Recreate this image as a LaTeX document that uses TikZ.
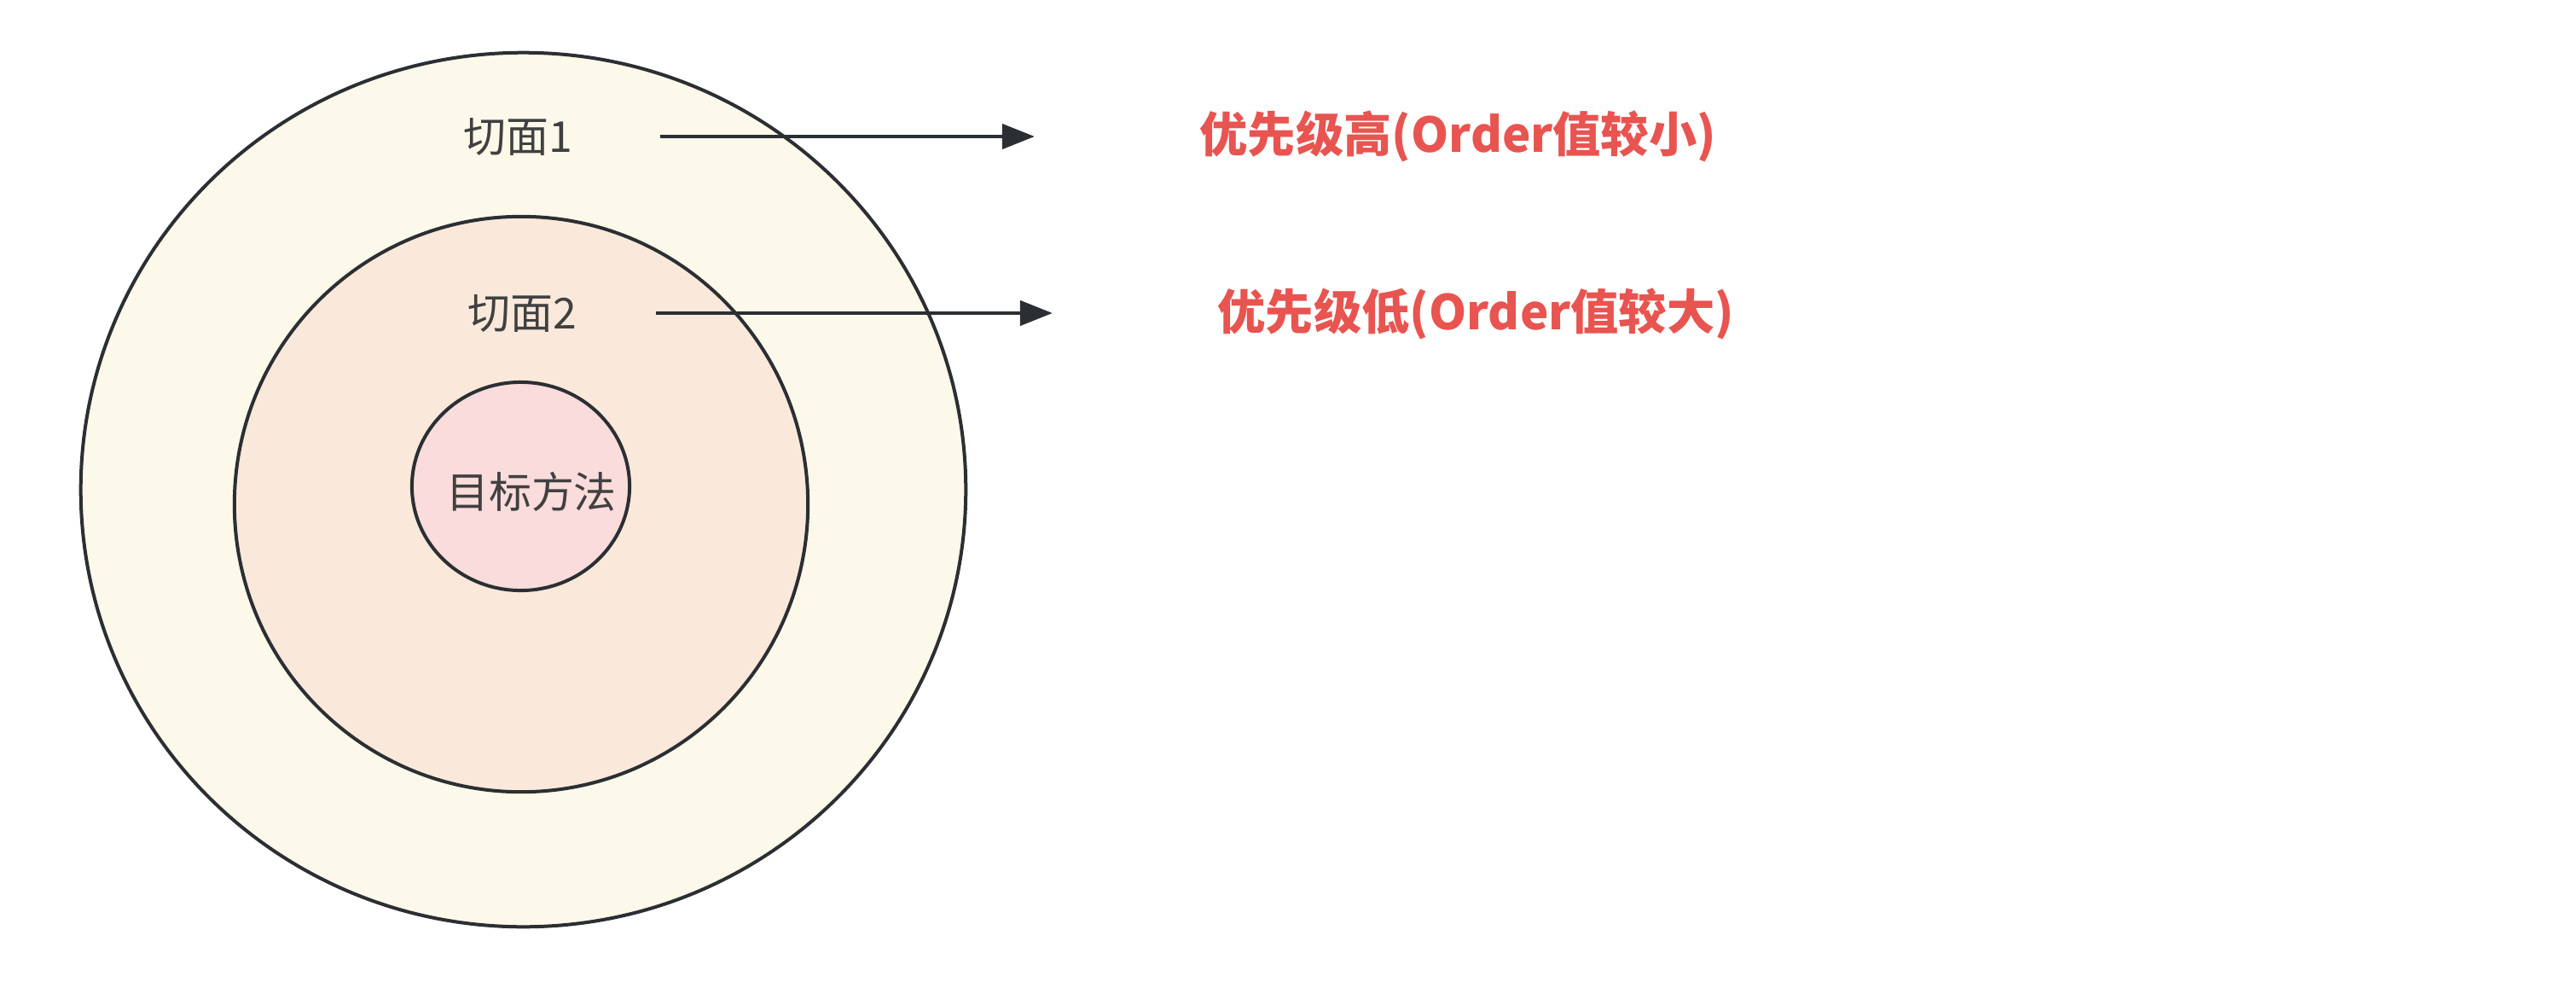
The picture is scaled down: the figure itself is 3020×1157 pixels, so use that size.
\documentclass[tikz,border=0pt]{standalone}
\usepackage{fontspec}
\setmainfont{Noto Sans CJK SC}
\usetikzlibrary{shapes.geometric,arrows.meta,positioning}
\definecolor{ringout}{RGB}{252,248,234}
\definecolor{ringmid}{RGB}{250,233,218}
\definecolor{ringin}{RGB}{249,220,219}
\definecolor{edgegray}{RGB}{43,47,51}
\definecolor{txtgray}{RGB}{64,64,64}
\definecolor{notered}{RGB}{232,84,80}
\tikzset{
	ring/.style={shape=ellipse,draw=edgegray,line width=0.04cm,inner sep=0pt},
	cutlabel/.style={text=txtgray,font=\fontsize{14.2}{16}\selectfont,inner sep=0pt},
	prio/.style={text=notered,font=\fontsize{16}{18}\selectfont\bfseries,inner sep=0pt},
	arrowline/.style={draw=edgegray,line width=0.045cm,-{Triangle[length=0.38cm,width=0.29cm]}}
}
\begin{document}
\begin{tikzpicture}[x=0.01cm,y=-0.01cm]
	\useasboundingbox (0,0) rectangle (3020,1157);

	\node[ring,fill=ringout,minimum width=10.37cm,minimum height=10.24cm] (outer) at (613.5,574) {};
	\node[ring,fill=ringmid,minimum width=6.72cm,minimum height=6.74cm] (middle) at (611,591) {};
	\node[ring,fill=ringin,minimum width=2.55cm,minimum height=2.44cm] (target) at (610.5,570) {};

	\node[cutlabel] (cut1) at (607,160) {切面1};
	\node[cutlabel] (cut2) at (612,367) {切面2};
	\node[cutlabel] (method) at (623,576) {目标方法};

	\node[prio,anchor=west] (high) at (1406,160) {优先级高(Order值较小)};
	\node[prio,anchor=west] (low) at (1427,368) {优先级低(Order值较大)};

	\draw[arrowline] ([xshift=1.02cm]cut1.east) -- ([xshift=-1.93cm]cut1.east -| high.west);
	\draw[arrowline] ([xshift=0.92cm]cut2.east) -- ([xshift=-1.93cm]cut2.east -| low.west);
\end{tikzpicture}
\end{document}
